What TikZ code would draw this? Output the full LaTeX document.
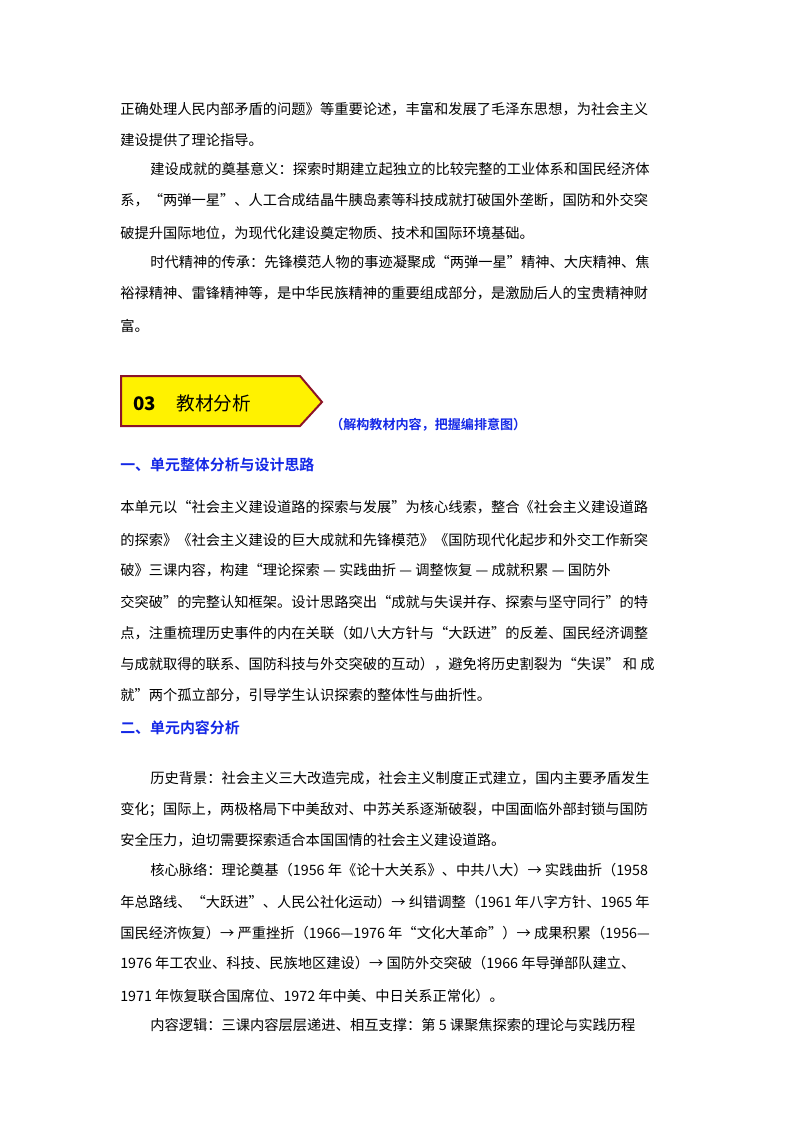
\documentclass[tikz,border=0pt]{standalone}
\usepackage{fontspec}
\setmainfont{Noto Sans CJK SC}
\newfontfamily\cjkb{Noto Sans CJK SC Bold}
\definecolor{hblue}{RGB}{20,40,230}
\definecolor{bord}{RGB}{140,20,40}
\begin{document}
\begin{tikzpicture}[x=0.75pt,y=-0.75pt,
  ln/.style={anchor=west,inner sep=0,font=\fontsize{10.7pt}{11pt}\selectfont},
  hd/.style={anchor=west,inner sep=0,font=\cjkb\fontsize{11.2pt}{12pt}\selectfont,text=hblue}]
\useasboundingbox (0,0) rectangle (800,1132);
\node[ln] (l1) at (120,109) {正确处理人民内部矛盾的问题》等重要论述，丰富和发展了毛泽东思想，为社会主义};
\node[ln] (l2) at (120,140) {建设提供了理论指导。};
\node[ln] (l3) at (150,169) {建设成就的奠基意义：探索时期建立起独立的比较完整的工业体系和国民经济体};
\node[ln] (l4) at (120,200) {系，“两弹一星”、人工合成结晶牛胰岛素等科技成就打破国外垄断，国防和外交突};
\node[ln] (l5) at (120,233) {破提升国际地位，为现代化建设奠定物质、技术和国际环境基础。};
\node[ln] (l6) at (150,262) {时代精神的传承：先锋模范人物的事迹凝聚成“两弹一星”精神、大庆精神、焦};
\node[ln] (l7) at (120,293) {裕禄精神、雷锋精神等，是中华民族精神的重要组成部分，是激励后人的宝贵精神财};
\node[ln] (l8) at (120,326) {富。};
\draw[fill=yellow,draw=bord,line width=1.5pt] (121,376) -- (300,376) -- (322,402) -- (300,426) -- (121,426) -- cycle;
\node[anchor=west,inner sep=0,font=\fontsize{14pt}{15pt}\selectfont] (b) at (133,403) {\textbf{03}\hspace{1.1em}教材分析};
\node[hd,font=\cjkb\fontsize{9.8pt}{10pt}\selectfont] (sub) at (330,425) {（解构教材内容，把握编排意图）};
\node[hd] (h1) at (120,465) {一、单元整体分析与设计思路};
\node[ln] (p1) at (120,507) {本单元以“社会主义建设道路的探索与发展”为核心线索，整合《社会主义建设道路};
\node[ln] (p2) at (120,540) {的探索》《社会主义建设的巨大成就和先锋模范》《国防现代化起步和外交工作新突};
\node[ln] (p3) at (120,570) {破》三课内容，构建“理论探索 — 实践曲折 — 调整恢复 — 成就积累 — 国防外};
\node[ln] (p4) at (120,602) {交突破”的完整认知框架。设计思路突出“成就与失误并存、探索与坚守同行”的特};
\node[ln] (p5) at (120,633) {点，注重梳理历史事件的内在关联（如八大方针与“大跃进”的反差、国民经济调整};
\node[ln] (p6) at (120,664) {与成就取得的联系、国防科技与外交突破的互动），避免将历史割裂为“失误” 和 成};
\node[ln] (p7) at (120,695) {就”两个孤立部分，引导学生认识探索的整体性与曲折性。};
\node[hd] (h2) at (120,728) {二、单元内容分析};
\node[ln] (q1) at (150,778) {历史背景：社会主义三大改造完成，社会主义制度正式建立，国内主要矛盾发生};
\node[ln] (q2) at (120,810) {变化；国际上，两极格局下中美敌对、中苏关系逐渐破裂，中国面临外部封锁与国防};
\node[ln] (q3) at (120,840) {安全压力，迫切需要探索适合本国国情的社会主义建设道路。};
\node[ln] (q4) at (150,870) {核心脉络：理论奠基（1956 年《论十大关系》、中共八大）→ 实践曲折（1958};
\node[ln] (q5) at (120,902) {年总路线、“大跃进”、人民公社化运动）→ 纠错调整（1961 年八字方针、1965 年};
\node[ln] (q6) at (120,933) {国民经济恢复）→ 严重挫折（1966—1976 年“文化大革命”）→ 成果积累（1956—};
\node[ln] (q7) at (120,963) {1976 年工农业、科技、民族地区建设）→ 国防外交突破（1966 年导弹部队建立、};
\node[ln] (q8) at (120,996) {1971 年恢复联合国席位、1972 年中美、中日关系正常化）。};
\node[ln] (q9) at (150,1025) {内容逻辑：三课内容层层递进、相互支撑：第 5 课聚焦探索的理论与实践历程};
\end{tikzpicture}
\end{document}
